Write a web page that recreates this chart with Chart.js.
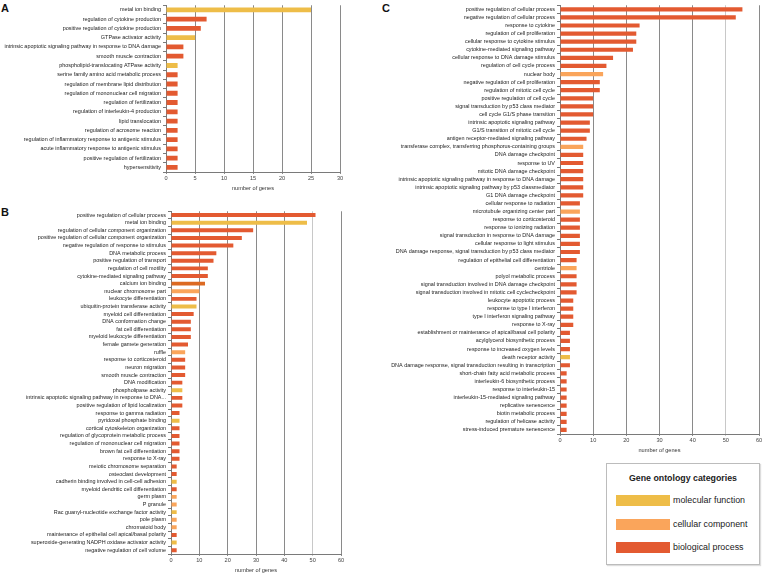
<!DOCTYPE html>
<html>
<head>
<meta charset="utf-8">
<script src="https://cdn.jsdelivr.net/npm/chart.js@4.4.1/dist/chart.umd.min.js"></script>
<style>
  body { margin: 0; background: #fff; width: 764px; height: 574px; position: relative; overflow: hidden; font-family: "Liberation Sans", Arial, sans-serif; }
  .panel { position: absolute; }
  .tag { position: absolute; font-weight: bold; font-size: 11px; color: #111; }
  #legendBox { position: absolute; left: 606px; top: 463px; width: 152px; height: 100px; border: 1px solid #bcbcbc; box-shadow: 1px 1px 1px #ddd; }
  #legendBox .ttl { position: absolute; left: 0; width: 100%; top: 9px; text-align: center; font-weight: bold; font-size: 8.8px; color: #222; }
  #legendBox .sw { position: absolute; left: 9px; width: 54px; height: 11px; }
  #legendBox .lb { position: absolute; left: 66px; font-size: 8.9px; color: #222; line-height: 11px; }
</style>
</head>
<body>

<div class="tag" style="left:1px;top:2px;">A</div>
<div class="tag" style="left:1px;top:206px;">B</div>
<div class="tag" style="left:382px;top:2px;">C</div>

<div class="panel" style="left:0;top:0;width:350px;height:192px;"><canvas id="chartA"></canvas></div>
<div class="panel" style="left:0;top:206px;width:350px;height:368px;"><canvas id="chartB"></canvas></div>
<div class="panel" style="left:380px;top:0;width:384px;height:454px;"><canvas id="chartC"></canvas></div>

<div id="legendBox">
  <div class="ttl">Gene ontology categories</div>
  <div class="sw" style="top:31px;background:#EEBD48;"></div><div class="lb" style="top:31px;">molecular function</div>
  <div class="sw" style="top:55px;background:#FAA55B;"></div><div class="lb" style="top:55px;">cellular component</div>
  <div class="sw" style="top:78px;background:#E35A31;"></div><div class="lb" style="top:78px;">biological process</div>
</div>

<script>
// --- Panel A ---
const labelsA = [
  'metal ion binding', 'regulation of cytokine production', 'positive regulation of cytokine production',
  'GTPase activator activity', 'intrinsic apoptotic signaling pathway in response to DNA damage',
  'smooth muscle contraction', 'phospholipid-translocating ATPase activity',
  'serine family amino acid metabolic process', 'regulation of membrane lipid distribution',
  'regulation of mononuclear cell migration', 'regulation of fertilization',
  'regulation of interleukin-4 production', 'lipid translocation', 'regulation of acrosome reaction',
  'regulation of inflammatory response to antigenic stimulus', 'acute inflammatory response to antigenic stimulus',
  'positive regulation of fertilization', 'hypersensitivity'
];
const valuesA = [25, 7, 6, 5, 3, 3, 2, 2, 2, 2, 2, 2, 2, 2, 2, 2, 2, 2];
const typesA  = ['M','B','B','M','B','B','M','B','B','B','B','B','B','B','B','B','B','B'];
const ticksA  = { max: 30, step: 5 };

// --- Panel B ---
const labelsB = [
  'positive regulation of cellular process', 'metal ion binding', 'regulation of cellular component organization',
  'positive regulation of cellular component organization', 'negative regulation of response to stimulus',
  'DNA metabolic process', 'positive regulation of transport', 'regulation of cell motility',
  'cytokine-mediated signaling pathway', 'calcium ion binding', 'nuclear chromosome part',
  'leukocyte differentiation', 'ubiquitin-protein transferase activity', 'myeloid cell differentiation',
  'DNA conformation change', 'fat cell differentiation', 'myeloid leukocyte differentiation',
  'female gamete generation', 'ruffle', 'response to corticosteroid', 'neuron migration',
  'smooth muscle contraction', 'DNA modification', 'phospholipase activity',
  'intrinsic apoptotic signaling pathway in response to DNA...', 'positive regulation of lipid localization',
  'response to gamma radiation', 'pyridoxal phosphate binding', 'cortical cytoskeleton organization',
  'regulation of glycoprotein metabolic process', 'regulation of mononuclear cell migration',
  'brown fat cell differentiation', 'response to X-ray', 'meiotic chromosome separation',
  'osteoclast development', 'cadherin binding involved in cell-cell adhesion',
  'myeloid dendritic cell differentiation', 'germ plasm', 'P granule',
  'Rac guanyl-nucleotide exchange factor activity', 'pole plasm', 'chromatoid body',
  'maintenance of epithelial cell apical/basal polarity', 'superoxide-generating NADPH oxidase activator activity',
  'negative regulation of cell volume'
];
const valuesB = [51, 48, 29, 25, 22, 16, 15, 13, 13, 12, 10, 9, 9, 8, 7, 7, 7, 6, 5, 5, 5, 5, 4, 4, 4, 4,
                 3, 3, 3, 3, 3, 3, 3, 2, 2, 2, 2, 2, 2, 2, 2, 2, 2, 2, 2];
const typesB  = ['B','M','B','B','B','B','B','B','B','X','C','B','M','B','B','B','B','B','C','B','B','B','B','M','B','B',
                 'B','M','B','B','B','B','B','B','B','M','B','C','C','M','C','C','B','M','B'];
const ticksB  = { max: 60, step: 10 };

// --- Panel C ---
const labelsC = [
  'positive regulation of cellular process', 'negative regulation of cellular process', 'response to cytokine',
  'regulation of cell proliferation', 'cellular response to cytokine stimulus', 'cytokine-mediated signaling pathway',
  'cellular response to DNA damage stimulus', 'regulation of cell cycle process', 'nuclear body',
  'negative regulation of cell proliferation', 'regulation of mitotic cell cycle', 'positive regulation of cell cycle',
  'signal transduction by p53 class mediator', 'cell cycle G1/S phase transition', 'intrinsic apoptotic signaling pathway',
  'G1/S transition of mitotic cell cycle', 'antigen receptor-mediated signaling pathway',
  'transferase complex, transferring phosphorus-containing groups', 'DNA damage checkpoint', 'response to UV',
  'mitotic DNA damage checkpoint', 'intrinsic apoptotic signaling pathway in response to DNA damage',
  'intrinsic apoptotic signaling pathway by p53 classmediator', 'G1 DNA damage checkpoint',
  'cellular response to radiation', 'microtubule organizing center part', 'response to corticosteroid',
  'response to ionizing radiation', 'signal transduction in response to DNA damage', 'cellular response to light stimulus',
  'DNA damage response, signal transduction by p53 class mediator', 'regulation of epithelial cell differentiation',
  'centriole', 'polyol metabolic process', 'signal transduction involved in DNA damage checkpoint',
  'signal transduction involved in mitotic cell cyclecheckpoint', 'leukocyte apoptotic process',
  'response to type I interferon', 'type I interferon signaling pathway', 'response to X-ray',
  'establishment or maintenance of apical/basal cell polarity', 'acylglycerol biosynthetic process',
  'response to increased oxygen levels', 'death receptor activity',
  'DNA damage response, signal transduction resulting in transcription', 'short-chain fatty acid metabolic process',
  'interleukin-6 biosynthetic process', 'response to interleukin-15', 'interleukin-15-mediated signaling pathway',
  'replicative senescence', 'biotin metabolic process', 'regulation of helicase activity',
  'stress-induced premature senescence'
];
const valuesC = [55, 53, 24, 23, 23, 22, 16, 14, 13, 12, 12, 10, 10, 10, 9, 9, 8, 7, 7, 7, 7, 7, 7, 7,
                 6, 6, 6, 6, 6, 6, 6, 5, 5, 5, 5, 5, 4, 4, 4, 4, 3, 3, 3, 3, 3, 2, 2, 2, 2, 2, 2, 2, 2];
const typesC  = ['B','B','B','B','B','B','B','B','C','B','B','B','B','B','B','B','B','C','B','B','B','B','B','B',
                 'B','C','B','B','B','B','B','B','C','B','B','B','B','B','B','B','B','B','B','M','B','B','B','B','B','B','B','B','B'];
const ticksC  = { max: 60, step: 10 };

// category colours (X = the odd darker orange bar in B)
const typeColors = { M: '#EEBD48', C: '#FAA55B', B: '#E35A31', X: '#DC6A22' };

const FONT = '"Liberation Sans", Arial, sans-serif';

function makeChart(id, labels, values, types, ticks, yWidth, pad) {
  const ctx = document.getElementById(id).getContext('2d');
  return new Chart(ctx, {
    type: 'bar',
    data: {
      labels: labels,
      datasets: [{
        data: values,
        backgroundColor: types.map(t => typeColors[t]),
        borderWidth: 0,
        categoryPercentage: 1,
        barPercentage: 0.52
      }]
    },
    options: {
      indexAxis: 'y',
      responsive: true,
      maintainAspectRatio: false,
      animation: false,
      layout: { padding: pad },
      plugins: { legend: { display: false }, tooltip: { enabled: false } },
      scales: {
        y: {
          afterFit: s => { s.width = yWidth; },
          ticks: { autoSkip: false, padding: 2, color: '#222', font: { family: FONT, size: 5.45 } },
          grid: { drawOnChartArea: false, tickLength: 3, color: '#7a7a7a' },
          border: { color: '#7a7a7a' }
        },
        x: {
          min: 0,
          max: ticks.max,
          afterFit: s => { s.height = 20; },
          ticks: { stepSize: ticks.step, padding: 1, color: '#444', font: { family: FONT, size: 5.6 } },
          grid: {
            tickLength: 2,
            color: c => (c.tick && c.tick.value === 50 ? '#c8c8c8' : '#8a8a8a')
          },
          border: { color: '#7a7a7a' },
          title: { display: true, text: 'number of genes', color: '#333', padding: 0, font: { family: FONT, size: 5.6 } }
        }
      }
    }
  });
}

makeChart('chartA', labelsA, valuesA, typesA, ticksA, 166, { top: 1, right: 10, bottom: 0, left: 0 });
makeChart('chartB', labelsB, valuesB, typesB, ticksB, 171, { top: 2, right: 9, bottom: 0, left: 0 });
makeChart('chartC', labelsC, valuesC, typesC, ticksC, 180, { top: 1, right: 5, bottom: 0, left: 0 });
</script>
</body>
</html>
